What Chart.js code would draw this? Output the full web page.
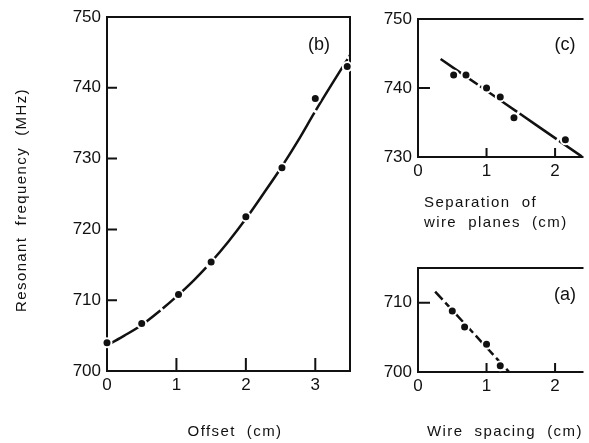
<!DOCTYPE html>
<html lang="en">
<head>
<meta charset="UTF-8" />
<title>Resonant frequency</title>
<script src="https://cdn.jsdelivr.net/npm/chart.js"></script>
<style>
  html, body { margin: 0; padding: 0; background: #fff; overflow: hidden; }
  canvas { position: absolute; }
</style>
</head>
<body>
<canvas id="chartB" width="358" height="443" style="left:0;top:0"></canvas>
<canvas id="chartC" width="229" height="240" style="left:360px;top:0"></canvas>
<canvas id="chartA" width="229" height="203" style="left:360px;top:240px"></canvas>

<script>
  // (b) frequency vs offset
  const offsetX = [0, 0.5, 1.03, 1.5, 2, 2.52, 3, 3.46];
  const offsetFreq = [704, 706.7, 710.8, 715.4, 721.8, 728.7, 738.5, 743];
  const offsetFitX = [0.05, 0.25, 0.5, 0.75, 1, 1.25, 1.5, 1.75, 2, 2.25, 2.5, 2.75, 3, 3.25, 3.5];
  const offsetFitFreq = [703.9, 705.0, 706.5, 708.4, 710.5, 712.8, 715.4, 718.3, 721.5, 725, 728.6, 732.5, 736.7, 740.7, 744.6];
  const offsetTicksX = [0, 1, 2, 3];
  const offsetTicksY = [700, 710, 720, 730, 740, 750];

  // (c) frequency vs separation of wire planes
  const sepX = [0.52, 0.7, 1.0, 1.2, 1.4, 2.15];
  const sepFreq = [741.9, 741.9, 740, 738.7, 735.7, 732.5];
  const sepFitX = [0.33, 2.4];
  const sepFitFreq = [744.2, 730.0];
  const sepTicksX = [0, 1, 2];
  const sepTicksY = [730, 740, 750];

  // (a) frequency vs wire spacing
  const wireX = [0.5, 0.68, 1.0, 1.2];
  const wireFreq = [708.8, 706.5, 704, 700.9];
  const wireFitX = [0.25, 1.33];
  const wireFitFreq = [711.6, 700];
  const wireTicksX = [0, 1, 2];
  const wireTicksY = [700, 710];

  const INK = '#111';
  const FONT = 'Liberation Sans, Arial, sans-serif';

  const toPoints = (xs, ys) => xs.map((x, i) => ({ x, y: ys[i] }));

  // frame, inward tick marks and free text labels
  const panelDecor = {
    id: 'panelDecor',
    beforeDatasetsDraw(chart, args, opts) {
      const { ctx, chartArea: a, scales: { x, y } } = chart;
      ctx.save();
      ctx.strokeStyle = INK;
      ctx.lineWidth = 2;
      ctx.lineCap = 'square';
      ctx.beginPath();
      ctx.moveTo(a.right, a.top);
      ctx.lineTo(a.left, a.top);
      ctx.lineTo(a.left, a.bottom);
      ctx.lineTo(a.right, a.bottom);
      if (opts.closed) ctx.lineTo(a.right, a.top);
      x.ticks.forEach(t => {
        if (t.value === x.min) return;
        const px = x.getPixelForValue(t.value);
        ctx.moveTo(px, a.bottom);
        ctx.lineTo(px, a.bottom - opts.xTick);
      });
      y.ticks.forEach(t => {
        if (t.value === y.min || t.value === y.max) return;
        const py = y.getPixelForValue(t.value);
        ctx.moveTo(a.left, py);
        ctx.lineTo(a.left + opts.yTick, py);
      });
      ctx.stroke();
      ctx.restore();
    },
    afterDraw(chart, args, opts) {
      const { ctx } = chart;
      (opts.captions || []).forEach(c => {
        ctx.save();
        ctx.fillStyle = INK;
        ctx.font = `${c.size || 15}px ${FONT}`;
        ctx.letterSpacing = (c.spacing || 0) + 'px';
        ctx.textAlign = c.align || 'center';
        ctx.textBaseline = 'middle';
        ctx.translate(c.x, c.y);
        if (c.rotate) ctx.rotate(-Math.PI / 2);
        ctx.fillText(c.text, 0, 0);
        ctx.restore();
      });
    }
  };

  function makePanel(id, cfg) {
    const tickFont = { family: FONT, size: 17 };
    return new Chart(document.getElementById(id), {
      type: 'scatter',
      data: {
        datasets: [
          {
            data: toPoints(cfg.fitX, cfg.fitY),
            showLine: true,
            borderColor: INK,
            borderWidth: 2.5,
            borderDash: cfg.dash,
            pointRadius: 0,
            cubicInterpolationMode: 'monotone',
            order: 2
          },
          {
            data: toPoints(cfg.x, cfg.y),
            backgroundColor: INK,
            borderColor: '#fff',
            borderWidth: 2,
            pointRadius: 4.5,
            clip: false,
            order: 1
          }
        ]
      },
      options: {
        responsive: false,
        animation: false,
        events: [],
        layout: { padding: cfg.padding },
        plugins: {
          legend: { display: false },
          tooltip: { enabled: false },
          panelDecor: { closed: cfg.closed, xTick: cfg.xTick, yTick: cfg.yTick, captions: cfg.captions }
        },
        scales: {
          x: {
            type: 'linear',
            min: cfg.xMin, max: cfg.xMax,
            grid: { display: false, drawTicks: false },
            border: { display: false },
            ticks: { font: tickFont, color: INK, padding: 4 },
            afterBuildTicks: s => { s.ticks = cfg.ticksX.map(v => ({ value: v })); },
            afterFit: s => { s.height = cfg.xHeight; }
          },
          y: {
            type: 'linear',
            min: cfg.yMin, max: cfg.yMax,
            grid: { display: false, drawTicks: false },
            border: { display: false },
            ticks: { font: tickFont, color: INK, padding: 6 },
            afterBuildTicks: s => { s.ticks = cfg.ticksY.map(v => ({ value: v })); },
            afterFit: s => { s.width = cfg.yWidth; }
          }
        }
      },
      plugins: [panelDecor]
    });
  }

  makePanel('chartB', {
    x: offsetX, y: offsetFreq, fitX: offsetFitX, fitY: offsetFitFreq,
    ticksX: offsetTicksX, ticksY: offsetTicksY,
    xMin: 0, xMax: 3.5, yMin: 700, yMax: 750,
    padding: { top: 17, right: 8, bottom: 0, left: 0 },
    yWidth: 107, xHeight: 72,
    closed: true, xTick: 12, yTick: 9,
    dash: [60, 3],
    captions: [
      { text: 'Resonant  frequency  (MHz)', x: 22, y: 200, rotate: true, size: 15, spacing: 1.4 },
      { text: 'Offset  (cm)', x: 235, y: 432, size: 15, spacing: 1.4 },
      { text: '(b)', x: 319, y: 45, size: 18 }
    ]
  });

  makePanel('chartC', {
    x: sepX, y: sepFreq, fitX: sepFitX, fitY: sepFitFreq,
    ticksX: sepTicksX, ticksY: sepTicksY,
    xMin: 0, xMax: 2.4, yMin: 730, yMax: 750,
    padding: { top: 19, right: 0, bottom: 0, left: 0 },
    yWidth: 58, xHeight: 83,
    closed: false, xTick: 8, yTick: 11,
    dash: [45, 3],
    captions: [
      { text: 'Separation  of', x: 64, y: 203, align: 'left', size: 15, spacing: 1.4 },
      { text: 'wire  planes  (cm)', x: 64, y: 223, align: 'left', size: 15, spacing: 1.4 },
      { text: '(c)', x: 205, y: 45, size: 18 }
    ]
  });

  makePanel('chartA', {
    x: wireX, y: wireFreq, fitX: wireFitX, fitY: wireFitFreq,
    ticksX: wireTicksX, ticksY: wireTicksY,
    xMin: 0, xMax: 2.4, yMin: 700, yMax: 715,
    padding: { top: 28, right: 0, bottom: 0, left: 0 },
    yWidth: 58, xHeight: 71,
    closed: false, xTick: 8, yTick: 11,
    dash: [11, 4],
    captions: [
      { text: 'Wire  spacing  (cm)', x: 67, y: 192, align: 'left', size: 15, spacing: 1.4 },
      { text: '(a)', x: 205, y: 55, size: 18 }
    ]
  });
</script>
</body>
</html>
